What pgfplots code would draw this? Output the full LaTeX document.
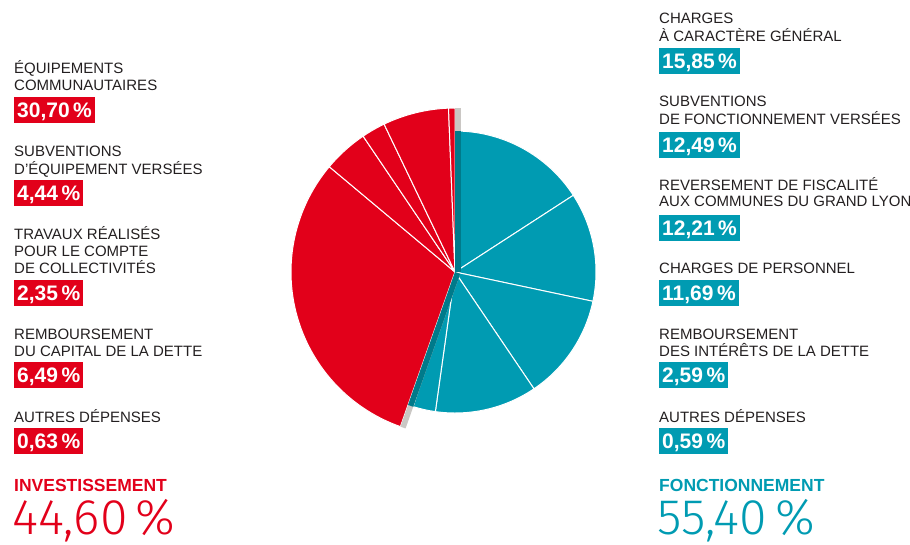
\documentclass[border=0pt]{standalone}
\usepackage{fontspec}
\setmainfont{Liberation Sans}
\newfontfamily\lightfont{Fira Sans Light}
\usepackage{pgfplots}
\usepackage{pgfplotstable}
\pgfplotsset{compat=1.18}

\definecolor{invest}{RGB}{226,0,26}
\definecolor{fonct}{RGB}{0,155,178}
\definecolor{darkteal}{RGB}{0,122,138}
\definecolor{shadowgrey}{RGB}{202,199,196}
\definecolor{labgrey}{RGB}{35,31,32}

% one row per slice, clockwise from 12 o'clock
\pgfplotstableread{
value radius col
15.85 141 fonct
12.49 141 fonct
12.21 141 fonct
11.69 141 fonct
2.59  141 fonct
0.59  141 fonct
30.70 164 invest
4.44  164 invest
2.35  164 invest
6.49  164 invest
0.63  164 invest
}\slices

\newcommand\labfont{\fontsize{15bp}{18bp}\selectfont}
\newcommand\pctfont{\fontsize{21bp}{24bp}\selectfont\bfseries}
\newcommand\lab[3]{\node[anchor=base west, font=\labfont, text=labgrey, inner sep=0pt] at (axis cs:#1,#2) {#3};}
\newcommand\pct[4]{\node[anchor=north west, fill=#4, text=white, font=\pctfont,
  inner xsep=3bp, inner ysep=5.5bp, text height=15bp, text depth=0pt] at (axis cs:#1,#2) {#3};}

\begin{document}
\begin{tikzpicture}
\pgfplotstablegetrowsof{\slices}
\pgfmathtruncatemacro{\lastrow}{\pgfplotsretval-1}
\gdef\total{0}
\foreach \i in {0,...,\lastrow}{
  \pgfplotstablegetelem{\i}{value}\of\slices
  \pgfmathsetmacro{\tmp}{\total+\pgfplotsretval}
  \xdef\total{\tmp}
}
\begin{axis}[width=910bp, height=544bp, scale only axis,
  xmin=0, xmax=910, ymin=0, ymax=544, y dir=reverse,
  hide axis, clip=false]

% pie slices
\gdef\cum{0}
\foreach \i in {0,...,\lastrow}{
  \pgfplotstablegetelem{\i}{value}\of\slices \let\val=\pgfplotsretval
  \pgfplotstablegetelem{\i}{radius}\of\slices \let\rad=\pgfplotsretval
  \pgfplotstablegetelem{\i}{col}\of\slices \let\col=\pgfplotsretval
  \pgfmathsetmacro{\aS}{90-360*(\cum/\total)}
  \pgfmathsetmacro{\newcum}{\cum+\val}
  \pgfmathsetmacro{\aE}{90-360*(\newcum/\total)}
  \xdef\cum{\newcum}
  \ifnum\i=6 \xdef\splitangle{\aS}\fi
  \edef\temp{\noexpand\fill[\col, draw=white, line width=1bp]
    (axis cs:455,272) -- ++(\aS:\rad bp)
    arc[start angle=\aS, end angle=\aE, radius=\rad bp] -- cycle;}
  \temp
}
% shadow strips along the two group boundaries
\fill[shadowgrey] (axis cs:455,272) -- ++(90:164bp) -- ++(0:6bp) -- ++(-90:164bp) -- cycle;
\fill[darkteal] (axis cs:455,272) -- ++(90:141bp) -- ++(0:6bp) -- ++(-90:141bp) -- cycle;
\edef\temp{\noexpand\fill[shadowgrey] (axis cs:455,272) -- ++(\splitangle:164bp)
  -- ++({\splitangle+90}:5.5bp) -- ++({\splitangle+180}:164bp) -- cycle;
  \noexpand\fill[darkteal] (axis cs:455,272) -- ++(\splitangle:141bp)
  -- ++({\splitangle+90}:5.5bp) -- ++({\splitangle+180}:141bp) -- cycle;}
\temp

% left column: investissement
\lab{14}{73.3}{ÉQUIPEMENTS}
\lab{14}{90.7}{COMMUNAUTAIRES}
\pct{14}{96.7}{30,70\,\%}{invest}
\lab{14}{156.7}{SUBVENTIONS}
\lab{14}{174}{D’ÉQUIPEMENT VERSÉES}
\pct{14}{180}{4,44\,\%}{invest}
\lab{14}{239}{TRAVAUX RÉALISÉS}
\lab{14}{256.3}{POUR LE COMPTE}
\lab{14}{273.6}{DE COLLECTIVITÉS}
\pct{14}{280}{2,35\,\%}{invest}
\lab{14}{339}{REMBOURSEMENT}
\lab{14}{356.3}{DU CAPITAL DE LA DETTE}
\pct{14}{362}{6,49\,\%}{invest}
\lab{14}{422.5}{AUTRES DÉPENSES}
\pct{14}{428}{0,63\,\%}{invest}
\node[anchor=base west, inner sep=0pt, text=invest, font=\fontsize{17.5bp}{20bp}\selectfont\bfseries]
  at (axis cs:14,491.7) {INVESTISSEMENT};
\node[anchor=base west, inner sep=0pt, text=invest, font=\fontsize{50bp}{54bp}\selectfont\lightfont]
  at (axis cs:12,534) {44,60\,\%};

% right column: fonctionnement
\lab{659}{24}{CHARGES}
\lab{659}{41.3}{À CARACTÈRE GÉNÉRAL}
\pct{659}{48.3}{15,85\,\%}{fonct}
\lab{659}{106.7}{SUBVENTIONS}
\lab{659}{124}{DE FONCTIONNEMENT VERSÉES}
\pct{659}{131.7}{12,49\,\%}{fonct}
\lab{659}{190}{REVERSEMENT DE FISCALITÉ}
\lab{659}{206.7}{AUX COMMUNES DU GRAND LYON}
\pct{659}{215}{12,21\,\%}{fonct}
\lab{659}{273.6}{CHARGES DE PERSONNEL}
\pct{659}{280}{11,69\,\%}{fonct}
\lab{659}{339}{REMBOURSEMENT}
\lab{659}{356.3}{DES INTÉRÊTS DE LA DETTE}
\pct{659}{362}{2,59\,\%}{fonct}
\lab{659}{422.5}{AUTRES DÉPENSES}
\pct{659}{428}{0,59\,\%}{fonct}
\node[anchor=base west, inner sep=0pt, text=fonct, font=\fontsize{17.5bp}{20bp}\selectfont\bfseries]
  at (axis cs:659,491.7) {FONCTIONNEMENT};
\node[anchor=base west, inner sep=0pt, text=fonct, font=\fontsize{50bp}{54bp}\selectfont\lightfont]
  at (axis cs:657,534) {55,40\,\%};
\end{axis}
\pgfresetboundingbox
\path[use as bounding box] (current axis.south west) rectangle (current axis.north east);
\end{tikzpicture}
\end{document}
